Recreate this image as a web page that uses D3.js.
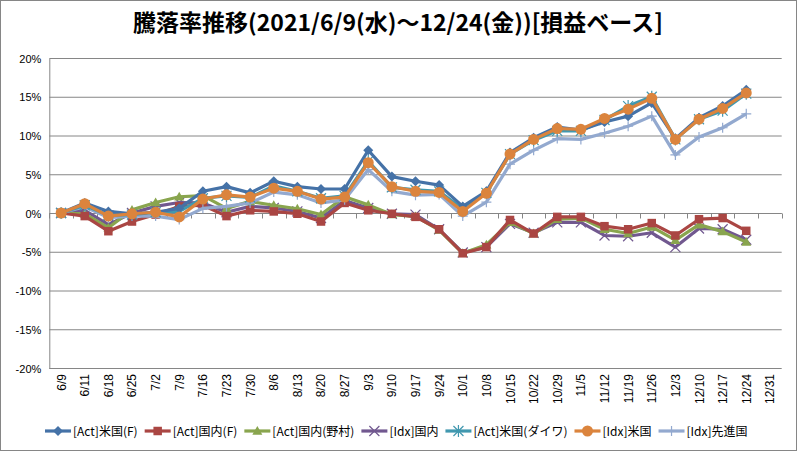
<!DOCTYPE html>
<html><head><meta charset="utf-8">
<script src="https://cdn.jsdelivr.net/npm/d3@7"></script>
<style>body{margin:0;background:#fff;}svg{display:block;}</style>
</head><body>
<svg id="c" width="797" height="451"></svg>
<script>
const categories = ["6/9","6/11","6/18","6/25","7/2","7/9","7/16","7/23","7/30","8/6","8/13","8/20","8/27","9/3","9/10","9/17","9/24","10/1","10/8","10/15","10/22","10/29","11/5","11/12","11/19","11/26","12/3","12/10","12/17","12/24","12/31"];
const yTicks = [-20,-15,-10,-5,0,5,10,15,20];
const title = "騰落率推移(2021/6/9(水)～12/24(金))[損益ベース]";

const actUS_F   = [0,1.3,0.2,-0.1,0.1,0.6,2.8,3.4,2.6,4.1,3.4,3.1,3.1,8.1,4.7,4.1,3.6,0.85,2.8,7.8,9.7,11.1,10.7,11.75,12.5,14.2,9.6,12.3,13.8,15.9];
const actJP_F   = [0,-0.4,-2.35,-1.1,-0.2,0.85,1.0,-0.4,0.35,0.2,-0.1,-1.1,1.3,0.35,-0.1,-0.5,-2.1,-5.2,-4.4,-0.9,-2.65,-0.5,-0.5,-1.7,-2.1,-1.3,-2.9,-0.8,-0.65,-2.3];
const actJP_NM  = [0,-0.1,-1.9,0.4,1.35,2.1,2.25,0.6,1.5,1.0,0.55,-0.2,2.1,1.05,-0.2,-0.45,-2.2,-5.2,-4.1,-1.2,-2.65,-0.8,-0.65,-2.1,-2.65,-1.8,-3.5,-1.5,-2.4,-3.75];
const idxJP     = [0,0.35,-1.5,0,0.85,1.35,1.3,0.1,0.85,0.65,0.2,-0.65,1.6,0.65,-0.1,-0.2,-2.1,-5.1,-4.4,-1.4,-2.55,-1.2,-1.2,-2.9,-3.0,-2.55,-4.4,-2.0,-2.1,-3.45];
const actUS_DW  = [0,1.0,-0.3,-0.2,0.1,0.2,1.9,2.2,2.0,3.5,2.8,1.9,2.2,6.7,3.3,3.0,2.8,0.5,2.6,7.6,9.4,10.6,10.6,12.0,13.8,15.0,9.5,12.1,13.2,15.4];
const idxUS     = [0,1.2,-0.4,-0.1,0.1,-0.5,1.8,2.35,2.05,3.2,2.8,1.8,2.05,6.5,3.4,2.8,2.65,0.2,2.55,7.6,9.5,10.9,10.8,12.2,13.4,14.8,9.5,12.1,13.5,15.5];
const idxDev    = [0,0.8,-0.6,-0.4,-0.4,-0.85,0.6,0.85,1.3,2.7,2.35,1.3,1.7,5.6,2.8,2.3,2.4,-0.4,1.4,6.3,8.1,9.6,9.5,10.3,11.2,12.5,7.5,9.8,11.0,12.8];

const seriesNames = ["[Act]米国(F)","[Act]国内(F)","[Act]国内(野村)","[Idx]国内","[Act]米国(ダイワ)","[Idx]米国","[Idx]先進国"];
const seriesColors = ["#4572A7","#AA4643","#89A54E","#71588F","#4198AF","#DB843D","#93A9CF"];
const seriesMarkers = ["diamond","square","triangle","x","asterisk","circle","plus"];
const seriesValues = [actUS_F, actJP_F, actJP_NM, idxJP, actUS_DW, idxUS, idxDev];
const drawOrder = [3,2,1,6,4,0,5];

const svg = d3.select("#c");
const W = 797, H = 451;
const font = "'Noto Sans CJK JP','Noto Sans',sans-serif";
svg.append("rect").attr("x",0.5).attr("y",0.5).attr("width",W-1).attr("height",H-1)
  .attr("fill","#fff").attr("stroke","#868686");

const plot = {l:49.3, r:781.7, t:58, b:368};
const x = d3.scaleBand().domain(categories).range([plot.l, plot.r]);
const y = d3.scaleLinear().domain([-20,20]).range([plot.b, plot.t]);

svg.append("text").attr("x",398).attr("y",31).attr("text-anchor","middle")
  .attr("font-family",font).attr("font-weight","bold").attr("font-size",23).attr("fill","#000")
  .text(title);

svg.append("g").selectAll("line").data(yTicks).join("line")
  .attr("x1",plot.l).attr("x2",plot.r).attr("y1",d=>y(d)+0.5).attr("y2",d=>y(d)+0.5)
  .attr("stroke","#868686").attr("stroke-width",1);
const yAxis = d3.axisLeft(y).tickValues(yTicks).tickFormat(d=>d+"%").tickSize(0).tickPadding(8);
const ga = svg.append("g").attr("transform",`translate(${plot.l},0.5)`).call(yAxis);
ga.select(".domain").attr("stroke","#868686");
ga.selectAll("text").attr("font-family","'Liberation Sans',Arial,sans-serif").attr("font-size",11).attr("fill","#000");

const xAxisG = svg.append("g").attr("transform",`translate(0,${y(0)+0.5})`);
xAxisG.append("line").attr("x1",plot.l).attr("x2",plot.r).attr("stroke","#868686");
const bounds = categories.map(c=>x(c)).concat([plot.r]);
xAxisG.selectAll("line.tk").data(bounds).join("line").attr("class","tk")
  .attr("x1",d=>Math.round(d)+0.5).attr("x2",d=>Math.round(d)+0.5).attr("y1",0).attr("y2",5)
  .attr("stroke","#868686");

svg.append("g").selectAll("text").data(categories).join("text")
  .attr("transform",d=>`translate(${x(d)+x.bandwidth()/2+4.5},374) rotate(-90)`)
  .attr("text-anchor","end")
  .attr("font-family","'Liberation Sans',Arial,sans-serif").attr("font-size",12).attr("fill","#000")
  .text(d=>d);

function markerPath(type, s){
  switch(type){
    case "diamond": return `M0,${-s}L${s},0L0,${s}L${-s},0Z`;
    case "square": return `M${-s*0.85},${-s*0.85}h${s*1.7}v${s*1.7}h${-s*1.7}Z`;
    case "triangle": return `M0,${-s}L${s},${s*0.75}L${-s},${s*0.75}Z`;
    case "x": return `M${-s},${-s}L${s},${s}M${-s},${s}L${s},${-s}`;
    case "asterisk": return `M${-s},${-s}L${s},${s}M${-s},${s}L${s},${-s}M0,${-s*1.2}V${s*1.2}`;
    case "plus": return `M${-s},0H${s}M0,${-s}V${s}`;
    case "circle": return d3.symbol(d3.symbolCircle, Math.PI*s*s)();
  }
}
const filled = t => ["diamond","square","triangle","circle"].includes(t);
function drawMarker(g, type, color, cx, cy){
  const s = type==="circle"?5.5:5;
  const p = g.append("path").attr("d",markerPath(type,s)).attr("transform",`translate(${cx},${cy})`);
  if(filled(type)) p.attr("fill",color).attr("stroke","none");
  else p.attr("fill","none").attr("stroke",color).attr("stroke-width",1.2);
}

const line = d3.line().x((d,i)=>x(categories[i])+x.bandwidth()/2).y(d=>y(d));
const gS = svg.append("g");
drawOrder.forEach(si=>{
  const vals = seriesValues[si];
  const g = gS.append("g");
  g.append("path").attr("d",line(vals)).attr("fill","none")
    .attr("stroke",seriesColors[si]).attr("stroke-width",3.2).attr("stroke-linejoin","round");
  vals.forEach((v,i)=>drawMarker(g, seriesMarkers[si], seriesColors[si], x(categories[i])+x.bandwidth()/2, y(v)));
});

const lg = svg.append("g");
const tmp = svg.append("text").attr("font-family",font).attr("font-size",12);
let lx = 45; const ly = 431;
seriesNames.forEach((n,i)=>{
  const g = lg.append("g");
  g.append("line").attr("x1",lx).attr("x2",lx+26).attr("y1",ly).attr("y2",ly)
    .attr("stroke",seriesColors[i]).attr("stroke-width",3.2);
  drawMarker(g, seriesMarkers[i], seriesColors[i], lx+13, ly);
  tmp.text(n);
  const w = tmp.node().getComputedTextLength();
  g.append("text").attr("x",lx+28).attr("y",ly+4.5).attr("font-family",font).attr("font-size",12)
    .attr("fill","#000").text(n);
  lx += 28 + w + 7;
});
tmp.remove();
</script>
</body></html>
